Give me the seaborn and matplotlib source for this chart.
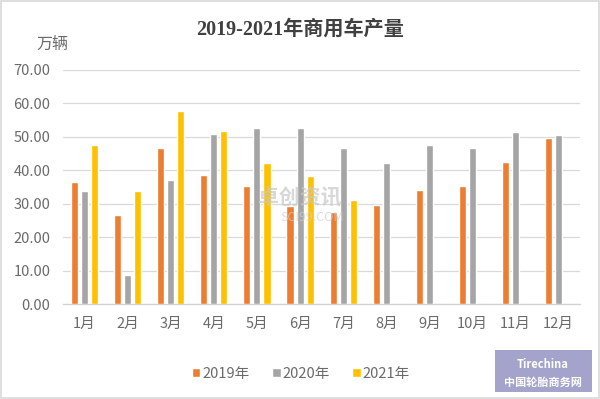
import numpy as np
import pandas as pd
import matplotlib
matplotlib.use("Agg")
import matplotlib.pyplot as plt
import seaborn as sns
from matplotlib.patches import Rectangle

months = ["1月", "2月", "3月", "4月", "5月", "6月", "7月", "8月", "9月", "10月", "11月", "12月"]
series_names = ["2019年", "2020年", "2021年"]
v2019 = [36.6, 26.6, 46.6, 38.7, 35.4, 29.4, 27.4, 29.6, 34.2, 35.4, 42.5, 49.6]
v2020 = [33.7, 8.6, 37.2, 50.9, 52.6, 52.6, 46.6, 42.2, 47.6, 46.7, 51.3, 50.5]
v2021 = [47.6, 33.7, 57.7, 51.8, 42.1, 38.3, 31.2, np.nan, np.nan, np.nan, np.nan, np.nan]
yticks = [0, 10, 20, 30, 40, 50, 60, 70]
colors = ["#ED7D31", "#A5A5A5", "#FFC000"]

df = pd.DataFrame({
    "month": months * 3,
    "year": [series_names[0]] * 12 + [series_names[1]] * 12 + [series_names[2]] * 12,
    "value": v2019 + v2020 + v2021,
})

sns.set_theme(style="white")
plt.rcParams["font.family"] = ["Noto Sans CJK SC", "DejaVu Sans"]

fig = plt.figure(figsize=(6.0, 3.99), dpi=100)
ax = fig.add_axes([0.105, 0.238, 0.862, 0.587])

sns.barplot(data=df, x="month", y="value", hue="year", order=months,
            hue_order=series_names, palette=colors, width=0.7, gap=0.3,
            saturation=1, ax=ax, legend=True, zorder=3)

ax.set_ylim(0, 70)
ax.set_yticks(yticks)
ax.set_yticklabels([f"{t:.2f}" for t in yticks])
ax.yaxis.grid(True, color="#D9D9D9", linewidth=0.9, zorder=0)
ax.set_axisbelow(True)
for s in ["top", "right", "left"]:
    ax.spines[s].set_visible(False)
ax.spines["bottom"].set_color("#D0D0D0")
ax.spines["bottom"].set_linewidth(0.9)
ax.set_xlim(-0.5, 11.5)
ax.set_xlabel("")
ax.set_ylabel("")
ax.tick_params(axis="both", length=0, colors="#6A6A6A", labelsize=10.5)
ax.tick_params(axis="x", pad=9)
ax.tick_params(axis="y", pad=9)

leg = ax.legend(loc="center", bbox_to_anchor=(0.46, -0.298), ncol=3,
                frameon=False, fontsize=10.5, handlelength=0.6, handleheight=0.6,
                handletextpad=0.15, columnspacing=1.5)
for t in leg.get_texts():
    t.set_color("#6A6A6A")

fig.text(0.5, 0.925, "2019-2021年商用车产量", ha="center", va="center",
         fontsize=14.5, color="#404040", fontweight="bold",
         family=["Liberation Serif", "Noto Sans CJK SC"])
fig.text(0.088, 0.888, "万辆", ha="center", va="center", fontsize=11.5, color="#6A6A6A")

# faint watermark
fig.text(0.50, 0.505, "卓创资讯", ha="center", va="center", fontsize=15,
         color="#C8C8C8", alpha=0.7, fontweight="bold", zorder=1)
fig.text(0.52, 0.455, "SCI99.COM", ha="center", va="center", fontsize=9,
         color="#D0D0D0", alpha=0.7, zorder=1)

# logo box bottom right
fig.patches.append(Rectangle((495 / 600, 1 - 392 / 399), 97 / 600, 42 / 399,
                             transform=fig.transFigure, facecolor="#A3A3CC",
                             edgecolor="none", zorder=5))
fig.text(543 / 600, 1 - 364 / 399, "Tirechina", ha="center", va="center",
         fontsize=8, color="white", style="italic", fontweight="bold", zorder=6)
fig.text(543 / 600, 1 - 382 / 399, "中国轮胎商务网", ha="center", va="center",
         fontsize=8, color="white", fontweight="bold", zorder=6)

# figure border
fig.patches.append(Rectangle((0.002, 0.002), 0.996, 0.996, transform=fig.transFigure,
                             facecolor="none", edgecolor="#D9D9D9", linewidth=1.2))

fig.savefig("out.png", dpi=100)
